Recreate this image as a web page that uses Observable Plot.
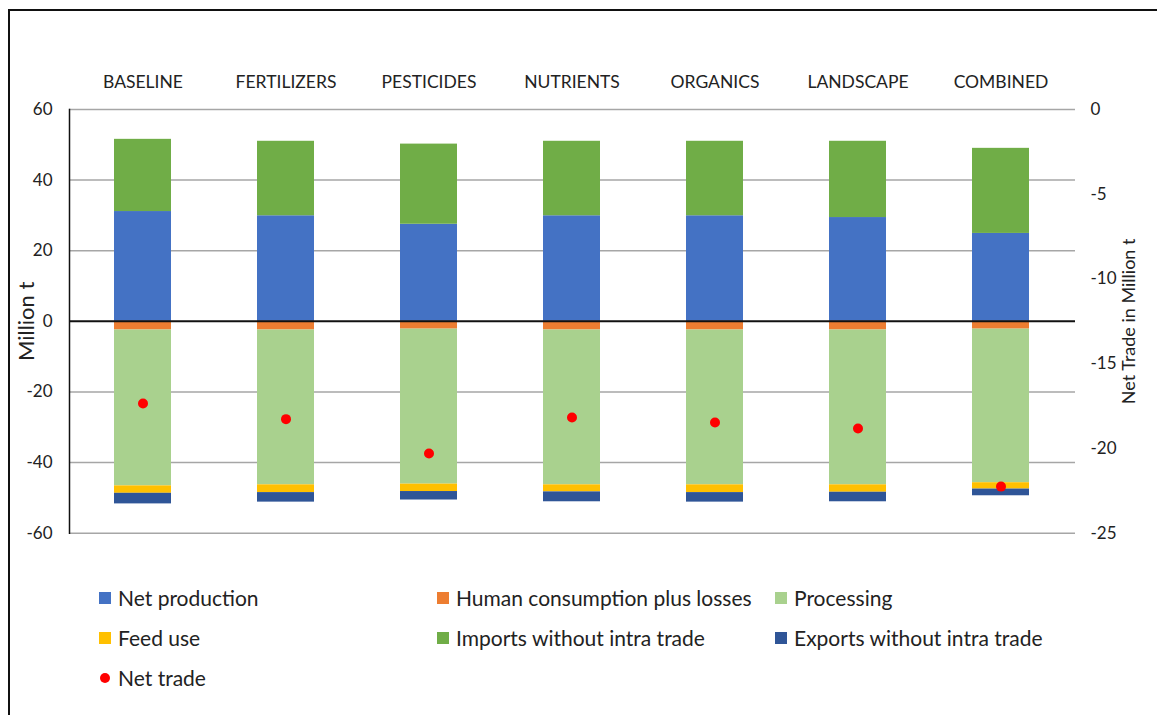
<!DOCTYPE html>
<html>
<head>
<meta charset="utf-8">
<script src="https://cdn.jsdelivr.net/npm/d3@7"></script>
<script src="https://cdn.jsdelivr.net/npm/@observablehq/plot@0.6"></script>
<style>
  html, body { margin: 0; padding: 0; background: #fff; overflow: hidden; }
  body { width: 1157px; height: 715px; position: relative; font-family: Lato, "Open Sans", sans-serif; }
  #frame { position: absolute; left: 7.5px; top: 9px; width: 1200px; height: 800px; border: 2px solid #111; box-sizing: border-box; }
  #chart { position: absolute; left: 0; top: 0; }
  .leg { position: absolute; font-size: 21px; color: #222; line-height: 1; white-space: nowrap; }
  .sw { position: absolute; width: 12px; height: 12px; }
  .dotsw { position: absolute; width: 10px; height: 10px; border-radius: 50%; }
</style>
</head>
<body>
<div id="frame"></div>
<div id="chart"></div>
<div id="legend"></div>
<script>
// ---- data ----
const scenarios = ["BASELINE", "FERTILIZERS", "PESTICIDES", "NUTRIENTS", "ORGANICS", "LANDSCAPE", "COMBINED"];
const netProduction = [31.1, 29.9, 27.5, 29.9, 29.9, 29.4, 24.9];
const humanConsumption = [-2.45, -2.45, -2.2, -2.45, -2.45, -2.45, -2.2];
const processing = [-44.15, -43.85, -43.9, -43.85, -43.85, -43.85, -43.5];
const feedUse = [-2.1, -2.2, -2.1, -2.0, -2.2, -2.1, -1.8];
const imports = [20.45, 21.1, 22.7, 21.1, 21.1, 21.6, 24.1];
const exports = [-3.0, -2.7, -2.4, -2.8, -2.7, -2.7, -1.9];
const netTrade = [-17.35, -18.27, -20.3, -18.17, -18.47, -18.82, -22.25];

const seriesNames = ["Net production", "Human consumption plus losses", "Processing", "Feed use", "Imports without intra trade", "Exports without intra trade"];
const seriesColors = ["#4472C4", "#ED7D31", "#A9D18E", "#FFC000", "#70AD47", "#2F5597"];
const seriesValues = [netProduction, humanConsumption, processing, feedUse, imports, exports];

const leftTicks = [60, 40, 20, 0, -20, -40, -60];
const rightTicks = [0, -5, -10, -15, -20, -25];
const leftDomain = [-60, 60];
const rightDomain = [-25, 0];

// map right-axis (net trade) values onto the left scale
const toLeft = d3.scaleLinear().domain(rightDomain).range(leftDomain);

const rows = [];
scenarios.forEach((s, i) => {
  seriesNames.forEach((name, k) => {
    rows.push({scenario: s, series: name, value: seriesValues[k][i]});
  });
});
const trade = scenarios.map((s, i) => ({scenario: s, value: netTrade[i]}));

const chart = Plot.plot({
  width: 1157,
  height: 560,
  marginTop: 109,
  marginBottom: 27.3,
  marginLeft: 69,
  marginRight: 82,
  style: {fontFamily: "Lato, 'Open Sans', sans-serif", fontSize: "17px", color: "#222", background: "transparent"},
  x: {domain: scenarios, paddingInner: 0.6, paddingOuter: 0.3},
  y: {domain: leftDomain},
  color: {domain: seriesNames, range: seriesColors},
  marks: [
    Plot.ruleY(leftTicks.filter(d => d !== 0), {stroke: "#A6A6A6", strokeWidth: 1.5}),
    Plot.barY(rows, {x: "scenario", y: "value", fill: "series"}),
    Plot.ruleY([0], {stroke: "#111", strokeWidth: 2}),
    Plot.frame({anchor: "left", stroke: "#111", strokeWidth: 1.5}),
    Plot.dot(trade, {x: "scenario", y: d => toLeft(d.value), r: 5, fill: "#FF0000"}),
    Plot.axisX({anchor: "top", tickSize: 0, tickPadding: 22, label: null, fontSize: 17.5}),
    Plot.axisY({anchor: "left", ticks: leftTicks, tickFormat: v => String(v), tickSize: 0, tickPadding: 17, label: null, fontSize: 17}),
    Plot.axisY({anchor: "right", ticks: rightTicks.map(v => toLeft(v)), tickFormat: v => String(Math.round(toLeft.invert(v))), tickSize: 0, tickPadding: 15, label: null, fontSize: 17}),
    Plot.text(["Million t"], {frameAnchor: "left", text: d => d, rotate: -90, textAnchor: "middle", dx: -43, dy: 0, fontSize: 22, fill: "#222"}),
    Plot.text(["Net Trade in Million t"], {frameAnchor: "right", text: d => d, rotate: -90, textAnchor: "middle", dx: 54, dy: 0, fontSize: 18, fill: "#222"})
  ]
});
document.getElementById("chart").appendChild(chart);

// ---- legend ----
const legendItems = [
  {name: seriesNames[0], color: seriesColors[0], x: 99, y: 598},
  {name: seriesNames[1], color: seriesColors[1], x: 437, y: 598},
  {name: seriesNames[2], color: seriesColors[2], x: 775, y: 598},
  {name: seriesNames[3], color: seriesColors[3], x: 99, y: 638},
  {name: seriesNames[4], color: seriesColors[4], x: 437, y: 638},
  {name: seriesNames[5], color: seriesColors[5], x: 775, y: 638},
  {name: "Net trade", color: "#FF0000", x: 99, y: 678, dot: true}
];
const leg = document.getElementById("legend");
legendItems.forEach(it => {
  const sw = document.createElement("div");
  if (it.dot) {
    sw.className = "dotsw";
    sw.style.left = (it.x + 1) + "px";
    sw.style.top = (it.y - 5) + "px";
  } else {
    sw.className = "sw";
    sw.style.left = it.x + "px";
    sw.style.top = (it.y - 6) + "px";
  }
  sw.style.background = it.color;
  leg.appendChild(sw);
  const t = document.createElement("div");
  t.className = "leg";
  t.textContent = it.name;
  t.style.left = (it.x + 19) + "px";
  t.style.top = (it.y - 11) + "px";
  leg.appendChild(t);
});
</script>
</body>
</html>
